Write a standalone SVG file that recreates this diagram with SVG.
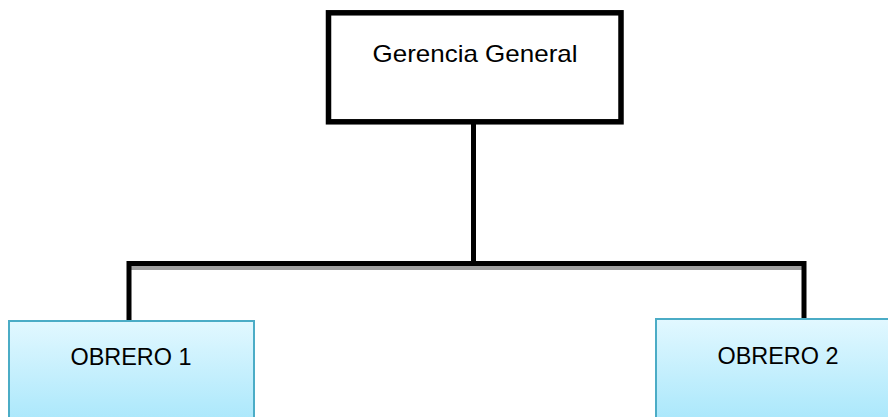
<svg xmlns="http://www.w3.org/2000/svg" width="888" height="417" viewBox="0 0 888 417">
  <defs>
    <linearGradient id="blue" x1="0" y1="0" x2="0" y2="1">
      <stop offset="0" stop-color="#e2f8ff"/>
      <stop offset="1" stop-color="#a5e6fb"/>
    </linearGradient>
  </defs>
  <style>
    .lbl { font-family: "Liberation Sans", Arial, sans-serif; font-size: 24px; fill: #000; text-anchor: middle; }
    .conn { stroke: #000; stroke-width: 5; fill: none; }
    .shadow { stroke: #a0a0a0; stroke-width: 4; fill: none; }
    .worker { fill: url(#blue); stroke: #4bacc6; stroke-width: 2; }
  </style>
  <rect x="0" y="0" width="888" height="417" fill="#fff"/>
  <g id="connectors">
    <line class="shadow" x1="131" y1="268" x2="803" y2="268"/>
    <polyline class="conn" points="129,320 129,263.5 804,263.5 804,319"/>
    <line class="conn" x1="473.5" y1="122" x2="473.5" y2="266" stroke-width="4"/>
  </g>
  <g id="gerencia">
    <rect x="328.5" y="12.8" width="292.5" height="109" fill="#fff" stroke="#000" stroke-width="5.5"/>
    <text class="lbl" x="475" y="62" textLength="205" lengthAdjust="spacingAndGlyphs">Gerencia General</text>
  </g>
  <g id="obrero1">
    <rect class="worker" x="9" y="321" width="245" height="110"/>
    <text class="lbl" x="131" y="365" textLength="121" lengthAdjust="spacingAndGlyphs">OBRERO 1</text>
  </g>
  <g id="obrero2">
    <rect class="worker" x="656" y="319" width="245" height="110"/>
    <text class="lbl" x="778" y="364" textLength="121" lengthAdjust="spacingAndGlyphs">OBRERO 2</text>
  </g>
</svg>
